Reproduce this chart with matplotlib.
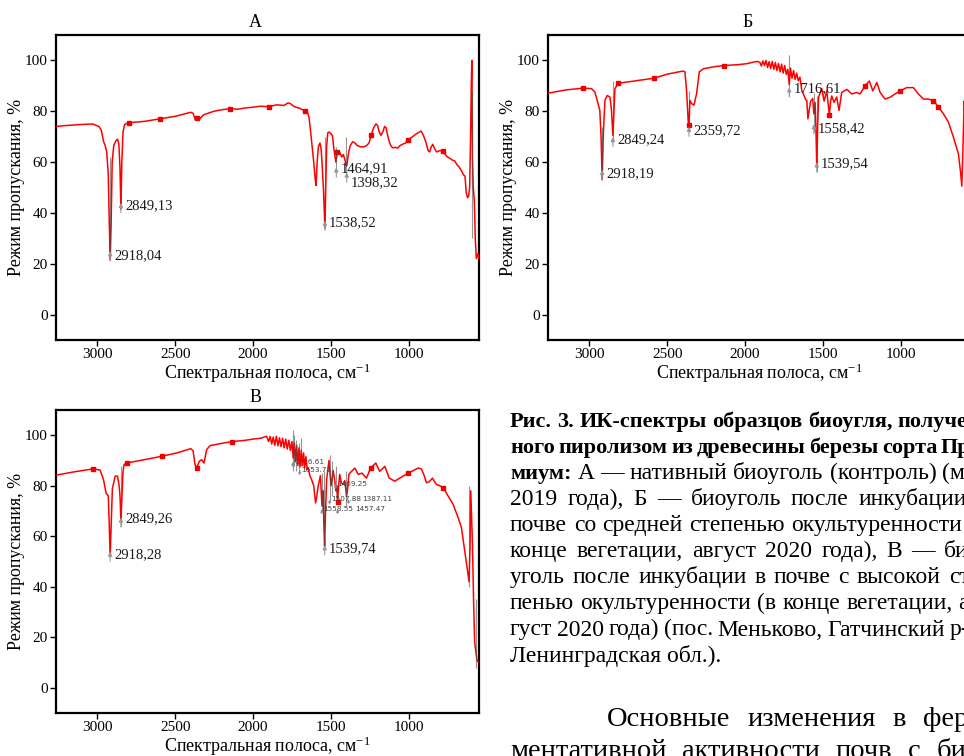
import matplotlib
matplotlib.use("Agg")
import matplotlib.pyplot as plt

plt.rcParams['font.family'] = ['Liberation Serif', 'DejaVu Serif']
plt.rcParams['mathtext.fontset'] = 'custom'
plt.rcParams['mathtext.rm'] = 'Liberation Serif'
plt.rcParams['mathtext.it'] = 'Liberation Serif:italic'

# ---- spectrum A (native biochar)
wn_a = [3266, 3200, 3100, 3030, 2990, 2975, 2960, 2950, 2940, 2930, 2925, 2918, 2912, 2905,
        2895, 2880, 2870, 2862, 2855, 2849, 2843, 2835, 2825, 2800, 2700, 2600, 2500, 2450,
        2400, 2385, 2370, 2360, 2345, 2320, 2300, 2250, 2200, 2150, 2100, 2050, 2000, 1950,
        1900, 1850, 1800, 1775, 1760, 1740, 1720, 1700, 1680, 1665, 1650, 1640, 1630, 1620,
        1610, 1600, 1595, 1588, 1580, 1570, 1562, 1555, 1548, 1542, 1538, 1533, 1527, 1520,
        1512, 1500, 1490, 1482, 1475, 1468, 1464, 1458, 1450, 1440, 1430, 1420, 1410, 1403,
        1398, 1392, 1385, 1375, 1360, 1345, 1330, 1310, 1290, 1270, 1255, 1240, 1225, 1210,
        1200, 1190, 1178, 1165, 1155, 1145, 1135, 1122, 1110, 1100, 1085, 1070, 1055, 1040,
        1020, 1005, 985, 960, 940, 920, 905, 890, 875, 865, 855, 845, 835, 820, 800, 780, 765,
        750, 735, 720, 705, 690, 675, 660, 648, 638, 630, 622, 615, 608, 602, 597, 594, 590,
        585, 578, 572, 565, 555, 548]
t_a = [74.0, 74.4, 74.8, 75.0, 74.0, 72.5, 68.0, 66.5, 64.0, 55.0, 40.0, 21.5, 35.0, 60.0,
       66.5, 68.5, 69.0, 67.0, 58.0, 41.5, 60.0, 72.0, 74.8, 75.5, 76.0, 77.0, 78.0, 78.8,
       79.6, 79.2, 76.5, 77.2, 76.8, 78.5, 79.0, 80.0, 80.6, 81.0, 80.8, 81.3, 81.6, 82.0,
       81.8, 82.5, 82.3, 83.3, 83.0, 82.0, 81.5, 81.2, 80.5, 80.2, 79.5, 77.5, 72.0, 66.0,
       60.0, 53.0, 50.8, 60.0, 66.0, 67.5, 65.0, 58.0, 50.0, 40.0, 34.0, 50.0, 66.0, 71.5,
       71.8, 71.2, 70.5, 66.0, 63.0, 60.0, 61.5, 63.8, 64.5, 63.5, 62.0, 63.0, 61.0, 59.0,
       58.5, 61.0, 64.0, 66.5, 68.0, 67.5, 66.5, 66.0, 66.0, 66.5, 67.5, 70.8, 73.5, 75.0,
       74.5, 72.0, 70.5, 72.0, 74.0, 73.5, 70.5, 67.5, 66.0, 65.6, 65.8, 65.5, 66.5, 67.0,
       67.5, 68.8, 69.5, 70.7, 71.5, 72.2, 70.5, 68.0, 64.5, 64.0, 66.0, 67.0, 65.5, 64.0,
       64.5, 64.5, 63.0, 62.0, 61.5, 60.8, 60.5, 59.0, 58.0, 56.5, 55.0, 54.5, 48.0, 46.0,
       46.5, 50.0, 70.0, 92.0, 100.0, 62.0, 50.0, 45.0, 30.0, 22.0, 24.0, 22.0]

# ---- spectrum Б
wn_b = [3267, 3150, 3040, 2986, 2965, 2950, 2933, 2925, 2918, 2910, 2900, 2886, 2868, 2858,
        2849, 2842, 2836, 2815, 2700, 2585, 2500, 2400, 2386, 2375, 2365, 2360, 2354, 2343,
        2328, 2311, 2294, 2268, 2200, 2133, 2050, 1990, 1925, 1905, 1895, 1885, 1875, 1865,
        1855, 1845, 1835, 1825, 1815, 1805, 1795, 1785, 1775, 1765, 1755, 1745, 1735, 1725,
        1716, 1708, 1698, 1688, 1678, 1668, 1658, 1647, 1635, 1625, 1610, 1603, 1596, 1589,
        1578, 1565, 1558, 1550, 1545, 1539, 1533, 1527, 1507, 1492, 1475, 1466, 1458, 1450,
        1443, 1428, 1411, 1396, 1379, 1346, 1314, 1282, 1261, 1229, 1201, 1179, 1153, 1132,
        1100, 1068, 1036, 1004, 961, 918, 886, 854, 822, 789, 757, 725, 693, 661, 629, 615,
        607, 600, 592, 580, 565, 548]
t_b = [87.1, 88.4, 89.1, 88.9, 87.6, 84.3, 80.3, 70.0, 53.0, 72.0, 84.3, 86.2, 85.6, 80.3,
       70.5, 80.0, 88.9, 91.0, 92.0, 93.0, 94.6, 95.8, 95.5, 87.6, 76.0, 74.5, 84.3, 83.0,
       82.4, 87.0, 95.5, 96.7, 97.5, 98.0, 98.3, 98.7, 99.6, 99.3, 97.8, 99.8, 98.0, 100.0,
       97.2, 99.5, 96.8, 99.6, 96.5, 99.2, 96.0, 98.8, 95.5, 98.5, 95.0, 98.0, 94.5, 96.5,
       90.5, 97.0, 93.0, 96.0, 92.5, 95.0, 92.0, 93.4, 88.0, 86.8, 84.5, 84.2, 77.0, 80.0,
       84.0, 85.0, 79.0, 83.5, 75.0, 58.0, 75.0, 85.6, 88.9, 84.0, 88.0, 83.0, 78.7, 84.0,
       86.0, 83.5, 85.6, 80.3, 87.4, 88.6, 86.8, 87.4, 86.8, 90.0, 91.9, 88.0, 91.3, 87.4,
       84.8, 85.5, 86.8, 88.0, 89.3, 89.3, 86.8, 84.8, 84.8, 84.2, 81.6, 79.0, 75.7, 69.8,
       63.3, 56.0, 50.5, 65.0, 84.0, 70.0, 45.0, 35.0]

# ---- spectrum В
wn_c = [3265, 3150, 3026, 2983, 2961, 2944, 2930, 2924, 2918, 2911, 2904, 2886, 2871, 2860,
        2854, 2849, 2843, 2836, 2829, 2811, 2700, 2583, 2490, 2400, 2385, 2373, 2362, 2345,
        2330, 2315, 2298, 2276, 2200, 2133, 2050, 1998, 1950, 1913, 1900, 1890, 1880, 1870,
        1860, 1850, 1840, 1830, 1820, 1810, 1800, 1790, 1780, 1770, 1760, 1750, 1742, 1735,
        1728, 1720, 1712, 1705, 1698, 1690, 1682, 1675, 1668, 1660, 1652, 1645, 1635, 1624,
        1610, 1598, 1590, 1581, 1567, 1557, 1550, 1545, 1540, 1535, 1527, 1512, 1499, 1485,
        1475, 1468, 1462, 1457, 1450, 1443, 1432, 1421, 1410, 1399, 1390, 1384, 1367, 1346,
        1324, 1300, 1293, 1271, 1245, 1211, 1186, 1153, 1125, 1089, 1058, 1030, 1004, 970,
        940, 919, 900, 886, 870, 847, 822, 800, 779, 747, 715, 683, 661, 640, 625, 612, 606,
        601, 596, 590, 583, 576, 561, 552]
t_c = [84.2, 85.5, 86.7, 86.2, 82.5, 77.0, 76.0, 65.0, 52.0, 65.0, 78.7, 83.8, 83.8, 80.0,
       75.0, 66.0, 75.0, 85.0, 88.4, 89.0, 90.3, 91.7, 93.0, 94.7, 93.8, 88.5, 87.0, 89.7,
       90.3, 89.0, 94.3, 95.9, 96.8, 97.5, 98.0, 98.5, 98.8, 99.6, 97.5, 99.5, 96.5, 99.3,
       96.0, 99.6, 95.8, 99.0, 95.5, 98.8, 95.0, 98.5, 94.5, 98.0, 94.0, 97.5, 91.0, 97.0,
       89.5, 96.0, 88.0, 95.0, 87.5, 94.0, 88.0, 93.0, 87.0, 91.5, 86.5, 87.0, 84.0, 82.5,
       80.0, 73.2, 76.0, 80.0, 84.0, 72.0, 78.0, 65.0, 56.0, 68.0, 82.5, 90.0, 80.0, 86.0,
       82.0, 78.0, 80.0, 73.5, 80.0, 84.5, 81.0, 80.5, 82.0, 75.8, 80.0, 84.5, 85.7, 87.0,
       84.5, 85.0, 84.5, 83.0, 87.0, 89.0, 85.7, 87.7, 83.0, 81.8, 83.0, 84.0, 85.0, 86.0,
       87.0, 86.7, 84.0, 81.2, 81.5, 83.0, 80.5, 80.0, 79.3, 76.0, 72.7, 67.5, 63.5, 54.4,
       48.0, 42.0, 55.0, 78.0, 68.0, 57.0, 35.0, 18.0, 11.0, 10.0]

# red peak-pick dots (wavenumbers taken from the series above)
dots_a = [2800, 2600, 2360, 2150, 1900, 1665, 1458, 1240, 1005, 780]
dots_b = [3040, 2815, 2585, 2360, 2133, 1458, 1229, 1004, 789, 757]
dots_c = [3026, 2811, 2583, 2362, 2133, 1457, 1245, 1004, 779]

# labelled bands: wavenumber, arrow tip, text level, label
labels_a = [(2918, 26, 23, '2918,04'), (2849, 45, 43, '2849,13'),
            (1538, 38, 36, '1538,52'), (1465, 59, 57.5, '1464,91'),
            (1398, 57, 52, '1398,32')]
labels_b = [(2918, 58, 55.5, '2918,19'), (2849, 71, 69, '2849,24'),
            (2360, 75, 72.5, '2359,72'), (1716, 90.5, 89, '1716,61'),
            (1558, 76, 73, '1558,42'), (1539, 61, 59.5, '1539,54')]
labels_c = [(2918, 55, 52.5, '2918,28'), (2849, 68.5, 67, '2849,26'),
            (1539, 57.5, 55, '1539,74')]
# small crowded labels on panel В: wavenumber, level, text, x offset (pt)
small_c = [(1745, 89.5, '1716.61', 1), (1700, 86.3, '1653.71', 1),
           (1469, 80.8, '1469.25', 1), (1508, 74.6, '1507.88', 1),
           (1387, 74.8, '1387.11', 10), (1558, 70.8, '1558.55', 1),
           (1457, 70.8, '1457.47', 13)]

# dark overlay sticks: wavenumber, low, high
sticks_a = [(2919, 24, 62), (2850, 44, 60), (1537, 36, 70), (1466, 56, 66),
            (1400, 55, 70), (590, 30, 88)]
sticks_b = [(2918, 54, 74), (2850, 68, 92), (2362, 72, 88), (1718, 86, 102),
            (1560, 72, 87), (1539, 56, 86)]
sticks_c = [(2850, 64, 88), (1745, 86, 102), (1735, 88, 100), (1722, 86, 98),
            (1702, 86, 97), (1690, 88, 99), (1560, 70, 85), (1545, 55, 86),
            (1505, 74, 92), (1495, 76, 90), (1470, 78, 88), (1400, 72, 86),
            (612, 40, 80), (565, 8, 35)]

# caption text, one entry per printed line
caption_lines = [
    [('Рис.', 'bold'), ('3.', 'bold'), ('ИК-спектры', 'bold'), ('образцов', 'bold'),
     ('биоугля,', 'bold'), ('получен-', 'bold')],
    [('ного', 'bold'), ('пиролизом', 'bold'), ('из', 'bold'), ('древесины', 'bold'),
     ('березы', 'bold'), ('сорта', 'bold'), ('Пре-', 'bold')],
    [('миум:', 'bold'), ('А', 'normal'), ('—', 'normal'), ('нативный', 'normal'),
     ('биоуголь', 'normal'), ('(контроль)', 'normal'), ('(май', 'normal')],
    '2019 года), Б — биоуголь после инкубации в',
    'почве со средней степенью окультуренности (в',
    'конце вегетации, август 2020 года), В — био-',
    'уголь после инкубации в почве с высокой сте-',
    'пенью окультуренности (в конце вегетации, ав-',
    'густ 2020 года) (пос. Меньково, Гатчинский р-н,',
]
caption_last = 'Ленинградская обл.).'
para_lines = ['Основные изменения в фер-', 'ментативной активности почв с био-']

W = 964
H = 756
fig = plt.figure(figsize=(W / 100, H / 100), dpi=100)
renderer = fig.canvas.get_renderer()


def box(x0, y0, x1, y1):
    return [x0 / W, 1 - y1 / H, (x1 - x0) / W, (y1 - y0) / H]


def justify(words, ypx, x0, x1, sizes):
    objs = [fig.text(0, 1 - ypx / H, w, fontsize=sizes[wt], fontweight=wt,
                     va='baseline', ha='left') for w, wt in words]
    widths = [o.get_window_extent(renderer).width for o in objs]
    gap = (x1 - x0 - sum(widths)) / (len(objs) - 1)
    x = x0
    for o, w in zip(objs, widths):
        o.set_x(x / W)
        x += w + gap


def panel(rect, title, wn, t, dots, labels, sticks):
    ax = fig.add_axes(rect)
    ax.plot(wn, t, color='#ff0000', lw=1.1, zorder=3)
    for x, lo, hi in sticks:
        ax.vlines(x, lo, hi, color='0.3', lw=0.8, alpha=0.6, zorder=4)
    lookup = dict(zip(wn, t))
    ax.plot(dots, [lookup[d] for d in dots], 's', color='#ee0000', ms=2.2, zorder=3)
    for x, tip, ty, s in labels:
        ax.annotate('', xy=(x, tip), xytext=(x, tip - 6),
                    arrowprops=dict(arrowstyle='-|>', color='0.6', lw=0.8,
                                    mutation_scale=6), zorder=5)
        ax.annotate(s, xy=(x, ty), xytext=(3, 0), textcoords='offset points',
                    ha='left', va='center', fontsize=10.5, color='0.1', zorder=6)
    ax.set_xlim(3266, 548)
    ax.set_ylim(-10, 110)
    ax.set_xticks([3000, 2500, 2000, 1500, 1000])
    ax.set_yticks([0, 20, 40, 60, 80, 100])
    ax.tick_params(labelsize=11, length=4, width=1, direction='out', pad=2)
    for sp in ax.spines.values():
        sp.set_linewidth(1.6)
    ax.set_xlabel('Спектральная полоса, см$^{-1}$', fontsize=13, labelpad=0)
    ax.set_ylabel('Режим пропускания, %', fontsize=13, labelpad=0)
    ax.set_title(title, fontsize=13, pad=6, x=0.472)
    return ax


ax_a = panel(box(56, 35, 479, 340), 'А', wn_a, t_a, dots_a, labels_a, sticks_a)
ax_b = panel(box(548, 35, 971, 340), 'Б', wn_b, t_b, dots_b, labels_b, sticks_b)
ax_c = panel(box(56, 410, 479, 713), 'В', wn_c, t_c, dots_c, labels_c, sticks_c)

for x, ty, s, dx in small_c:
    ax_c.annotate('', xy=(x, ty + 1), xytext=(x, ty - 3),
                  arrowprops=dict(arrowstyle='-|>', color='0.55', lw=0.6, mutation_scale=4),
                  zorder=5)
    ax_c.annotate(s, xy=(x, ty), xytext=(dx, 0), textcoords='offset points', ha='left',
                  va='center', fontsize=5.2, color='0.25', family='DejaVu Sans', zorder=6)

# ---- caption on the right, justified to a column that runs past the page edge
cx = 510
base = 426.7
step = 26.1
sizes = {'bold': 16, 'normal': 17}
for i, line in enumerate(caption_lines):
    if isinstance(line, str):
        words = [(w, 'normal') for w in line.split()]
    else:
        words = line
    justify(words, base + i * step, cx, 988, sizes)
fig.text(cx / W, 1 - (base + 9 * step) / H, caption_last, fontsize=17,
         va='baseline', ha='left')

psizes = {'normal': 20.5}
justify([(w, 'normal') for w in para_lines[0].split()], 726.5, 607, 978, psizes)
justify([(w, 'normal') for w in para_lines[1].split()], 758, cx, 990, psizes)

fig.savefig('out.png', dpi=100)
